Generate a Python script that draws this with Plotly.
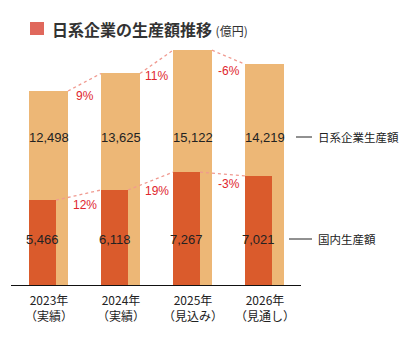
import plotly.graph_objects as go

years = ["2023年", "2024年", "2025年", "2026年"]
notes = ["（実績）", "（実績）", "（見込み）", "（見通し）"]
total = [12498, 13625, 15122, 14219]
domestic = [5466, 6118, 7267, 7021]
total_name = "日系企業生産額"
domestic_name = "国内生産額"
title_text = "日系企業の生産額推移"
unit_text = "(億円)"

LIGHT = "#EDB776"
DARK = "#DA5B2C"
RED = "#E0262D"
PINK = "#F09A90"
TXT = "#222222"
FONT = "Noto Sans CJK JP"

W, H = 409, 346
ML, MR, MT, MB = 11, 108, 40, 61
PW, PH = W - ML - MR, H - MT - MB
YMAX = 15780

def px(x):
    return (x - ML) / PW

def py(y):
    return (H - MB - y) / PH

def ydata(y):
    return (H - MB - y) / PH * YMAX

xs = list(range(len(years)))
wl, wd = 0.5417, 0.375
off = -wl / 2

fig = go.Figure()
fig.add_trace(go.Bar(x=xs, y=total, width=wl, offset=off, marker=dict(color=LIGHT, line=dict(width=0)),
                     showlegend=False, hoverinfo="skip"))
fig.add_trace(go.Bar(x=xs, y=domestic, width=wd, offset=off, marker=dict(color=DARK, line=dict(width=0)),
                     showlegend=False, hoverinfo="skip"))

# dotted connectors
for vals, w in ((total, wl), (domestic, wd)):
    lx, ly = [], []
    for i in range(len(vals) - 1):
        lx += [i + off + w, i + 1 + off, None]
        ly += [vals[i], vals[i + 1], None]
    fig.add_trace(go.Scatter(x=lx, y=ly, mode="lines", line=dict(color=PINK, width=1.3, dash="dot"),
                             showlegend=False, hoverinfo="skip", cliponaxis=False))

ann = []
# value labels
for i in xs:
    ann.append(dict(x=i, y=ydata(137), xref="x", yref="y", text=f"{total[i]:,}", showarrow=False,
                    yanchor="middle", font=dict(size=13, color=TXT, family="Liberation Sans")))
    ann.append(dict(x=i + off + wd / 2, y=ydata(239), xref="x", yref="y", text=f"{domestic[i]:,}", showarrow=False,
                    yanchor="middle", font=dict(size=13, color=TXT, family="Liberation Sans")))
# growth labels
for vals, shift in ((total, -14), (domestic, -10)):
    for i in range(len(vals) - 1):
        g = round((vals[i + 1] / vals[i] - 1) * 100)
        ann.append(dict(x=i + 0.5, y=(vals[i] + vals[i + 1]) / 2, xref="x", yref="y", yshift=shift,
                        yanchor="middle", text=f"{g}%", showarrow=False,
                        font=dict(size=12, color=RED, family="Liberation Sans")))
# x labels
for i in xs:
    ann.append(dict(x=i, y=py(307.5), xref="x", yref="paper", text=f"{years[i]}<br>{notes[i]}", showarrow=False,
                    yanchor="middle", font=dict(size=12, color=TXT, family=FONT)))
# series labels on right
ann.append(dict(x=px(316), y=ydata(137), xref="paper", yref="y", text=total_name, showarrow=False,
                xanchor="left", yanchor="middle", font=dict(size=11.5, color=TXT, family=FONT)))
ann.append(dict(x=px(316), y=ydata(239), xref="paper", yref="y", text=domestic_name, showarrow=False,
                xanchor="left", yanchor="middle", font=dict(size=11.5, color=TXT, family=FONT)))
# title
ann.append(dict(x=px(50), y=py(29), xref="paper", yref="paper", xanchor="left", yanchor="middle",
                text=f"<b>{title_text}</b> <span style='font-size:12px'>{unit_text}</span>", showarrow=False,
                font=dict(size=16, color="#333333", family=FONT)))

shapes = [
    dict(type="rect", xref="paper", yref="paper", x0=px(30), x1=px(44), y0=py(35), y1=py(22),
         fillcolor="#E0685C", line=dict(width=0)),
    dict(type="line", xref="paper", yref="y", x0=px(296), x1=px(312), y0=ydata(137), y1=ydata(137),
         line=dict(color=TXT, width=1)),
    dict(type="line", xref="paper", yref="y", x0=px(289), x1=px(312), y0=ydata(239), y1=ydata(239),
         line=dict(color=TXT, width=1)),
]

fig.update_layout(
    width=W, height=H, margin=dict(l=ML, r=MR, t=MT, b=MB),
    paper_bgcolor="white", plot_bgcolor="white",
    barmode="overlay", bargap=0,
    annotations=ann, shapes=shapes,
    xaxis=dict(range=[(11 - 48.5) / 72, (301 - 48.5) / 72], showticklabels=False, showgrid=False,
               zeroline=False, showline=True, linecolor="#111111", linewidth=1.3, ticks=""),
    yaxis=dict(range=[0, YMAX], visible=False),
)
fig.write_html("out.html")
